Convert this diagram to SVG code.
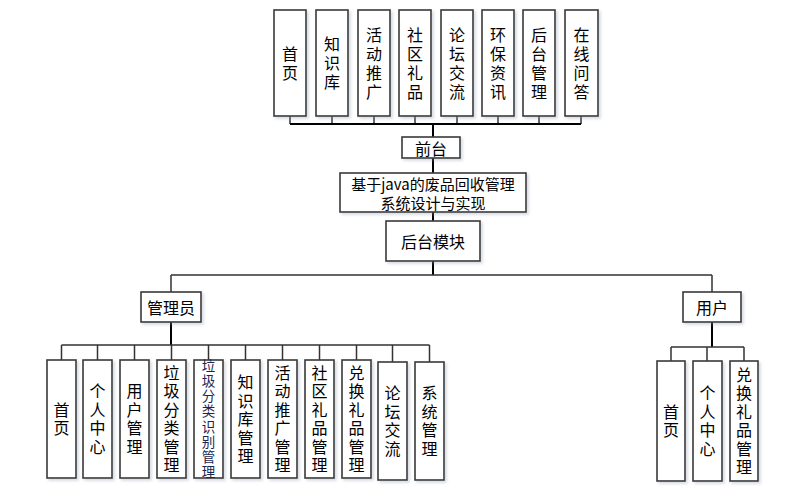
<svg xmlns="http://www.w3.org/2000/svg" width="787" height="492" viewBox="0 0 787 492">
<defs>
<filter id="sh" x="-20%" y="-20%" width="150%" height="150%">
<feDropShadow dx="2" dy="2" stdDeviation="1.5" flood-color="#8899aa" flood-opacity="0.35"/>
</filter>
</defs>
<style>
.b{fill:#fff;stroke:#3a3a3a;stroke-width:1.6;filter:url(#sh)}
.t{font-family:"Noto Sans CJK SC","Noto Sans",sans-serif;font-size:16px;fill:#000;text-anchor:middle;dominant-baseline:central}
.v{font-family:"Noto Sans CJK SC","Noto Sans",sans-serif;font-size:16px;fill:#000;text-anchor:middle;writing-mode:vertical-rl;text-orientation:upright;letter-spacing:2.5px}
.vt{letter-spacing:3px}
.s{font-size:13.5px;fill:#1c2450;letter-spacing:1.7px}
.c{fill:none;stroke:#333;stroke-width:1.5}
.k{fill:none;stroke:#000;stroke-width:2}
</style>
<rect width="787" height="492" fill="#fff"/>
<g id="connectors">
<path class="c" d="M290 116V124M332 116V124M374 116V124M415 116V124M457 116V124M498 116V124M539 116V124M581 116V124"/>
<path class="k" d="M290 124H581"/>
<path class="k" d="M433 124V137M433 158V173M433 212V221M433 261V275"/>
<path class="c" d="M171 275H712M171 275V292M712 275V292"/>
<path class="k" d="M171 322V345M712 322V347"/>
<path class="c" d="M61.5 345H429.5M61.5 345V360M97.5 345V360M134.5 345V360M171.5 345V360M208.5 345V360M245.5 345V360M282.5 345V360M319.5 345V360M356.5 345V360M392.5 345V362M429.5 345V362"/>
<path class="c" d="M671 347H744M671 347V361M707 347V361M744 347V361"/>
</g>
<g id="top-1"><rect class="b" x="274" y="10" width="32" height="106"/><text class="v vt" x="290" y="64.5">首页</text></g>
<g id="top-2"><rect class="b" x="316" y="10" width="32" height="106"/><text class="v vt" x="332" y="64.5">知识库</text></g>
<g id="top-3"><rect class="b" x="358" y="10" width="32" height="106"/><text class="v vt" x="374" y="64.5">活动推广</text></g>
<g id="top-4"><rect class="b" x="399" y="10" width="32" height="106"/><text class="v vt" x="415" y="64.5">社区礼品</text></g>
<g id="top-5"><rect class="b" x="441" y="10" width="32" height="106"/><text class="v vt" x="457" y="64.5">论坛交流</text></g>
<g id="top-6"><rect class="b" x="482" y="10" width="32" height="106"/><text class="v vt" x="498" y="64.5">环保资讯</text></g>
<g id="top-7"><rect class="b" x="523" y="10" width="32" height="106"/><text class="v vt" x="539" y="64.5">后台管理</text></g>
<g id="top-8"><rect class="b" x="565" y="10" width="33" height="106"/><text class="v vt" x="581.5" y="64.5">在线问答</text></g>
<g id="qiantai"><rect class="b" x="402" y="137" width="58" height="21"/><text class="t" x="431" y="147.5">前台</text></g>
<g id="main"><rect class="b" x="340" y="173" width="186" height="39"/><text class="t" style="font-size:15px" x="433" y="183">基于java的废品回收管理</text><text class="t" style="font-size:15px" x="433" y="202">系统设计与实现</text></g>
<g id="houtai"><rect class="b" x="386" y="221" width="94" height="40"/><text class="t" x="433" y="241">后台模块</text></g>
<g id="admin"><rect class="b" x="141" y="292" width="60" height="30"/><text class="t" x="171" y="307">管理员</text></g>
<g id="user"><rect class="b" x="683" y="292" width="58" height="30"/><text class="t" x="712" y="307">用户</text></g>
<g id="a1"><rect class="b" x="47" y="360" width="29" height="118"/><text class="v" x="61.5" y="420.2">首页</text></g>
<g id="a2"><rect class="b" x="83" y="360" width="29" height="118"/><text class="v" x="97.5" y="420.2">个人中心</text></g>
<g id="a3"><rect class="b" x="120" y="360" width="29" height="118"/><text class="v" x="134.5" y="420.2">用户管理</text></g>
<g id="a4"><rect class="b" x="157" y="360" width="29" height="118"/><text class="v" x="171.5" y="420.2">垃圾分类管理</text></g>
<g id="a5"><rect class="b" x="194" y="360" width="29" height="118"/><text class="v s" x="208.5" y="419.8">垃圾分类识别管理</text></g>
<g id="a6"><rect class="b" x="231" y="360" width="29" height="118"/><text class="v" x="245.5" y="420.2">知识库管理</text></g>
<g id="a7"><rect class="b" x="268" y="360" width="29" height="118"/><text class="v" x="282.5" y="420.2">活动推广管理</text></g>
<g id="a8"><rect class="b" x="305" y="360" width="29" height="118"/><text class="v" x="319.5" y="420.2">社区礼品管理</text></g>
<g id="a9"><rect class="b" x="342" y="360" width="29" height="118"/><text class="v" x="356.5" y="420.2">兑换礼品管理</text></g>
<g id="a10"><rect class="b" x="378" y="362" width="29" height="118"/><text class="v" x="392.5" y="422.2">论坛交流</text></g>
<g id="a11"><rect class="b" x="415" y="362" width="29" height="118"/><text class="v" x="429.5" y="422.2">系统管理</text></g>
<g id="u1"><rect class="b" x="657" y="361" width="28" height="120"/><text class="v" x="671" y="422.2">首页</text></g>
<g id="u2"><rect class="b" x="693" y="361" width="29" height="120"/><text class="v" x="707.5" y="422.2">个人中心</text></g>
<g id="u3"><rect class="b" x="730" y="361" width="28" height="120"/><text class="v" x="744" y="422.2">兑换礼品管理</text></g>
</svg>
